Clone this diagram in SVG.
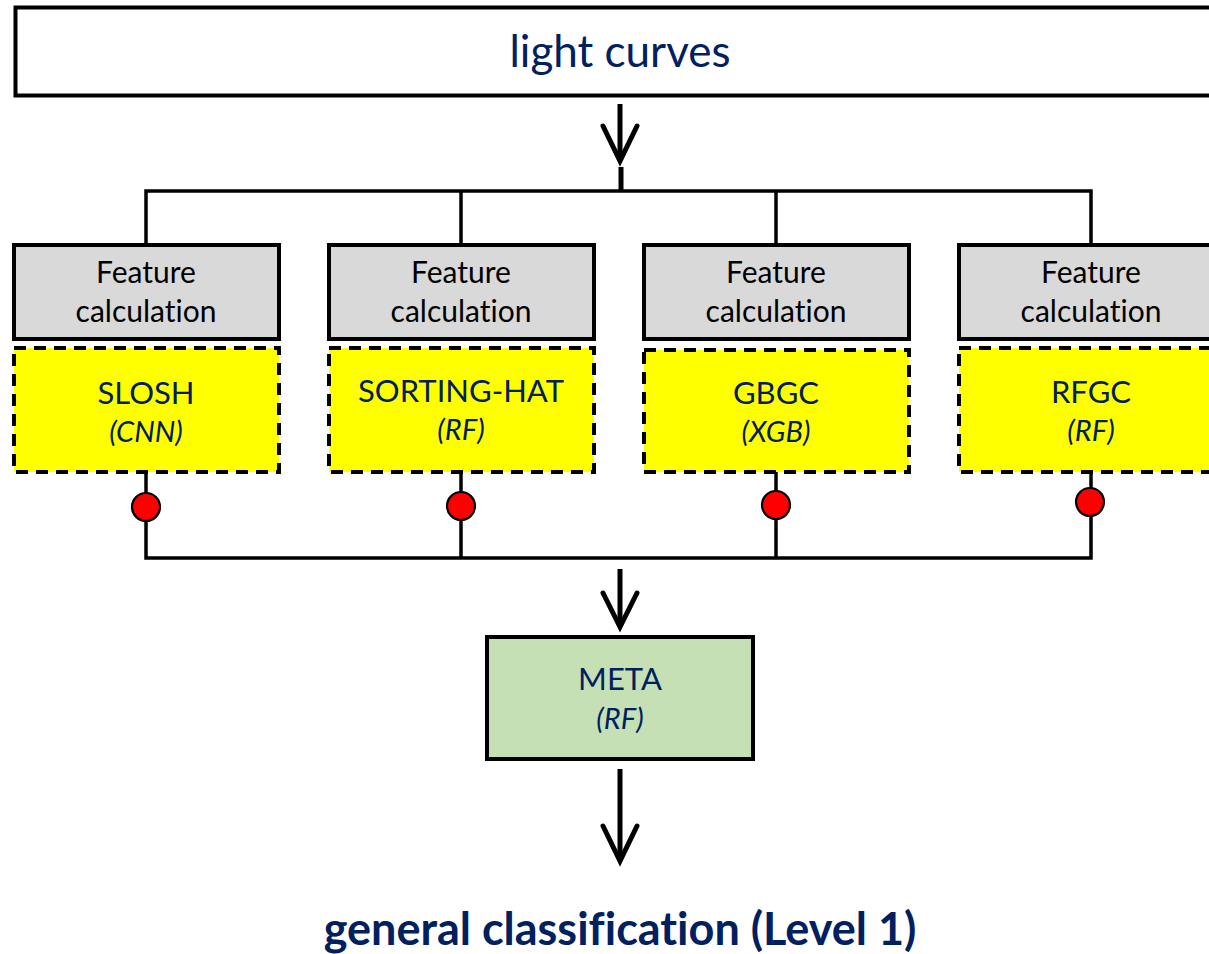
<svg xmlns="http://www.w3.org/2000/svg" width="1209" height="954" viewBox="0 0 1209 954">
  <style>
    .t { font-family: Lato, "Open Sans", "Liberation Sans", sans-serif; text-anchor: middle; font-variant-ligatures: none; }
    .navy { fill: #002060; }
    .title { font-size: 44px; }
    .feat { font-size: 30px; fill: #000; }
    .name { font-size: 31px; }
    .algo { font-size: 29px; font-style: italic; }
    .out { font-size: 45px; font-weight: bold; }
    .gray { fill: #D9D9D9; stroke: #000; stroke-width: 4; }
    .yellow { fill: #FFFF00; stroke: #000; stroke-width: 4; stroke-dasharray: 12 8; }
    .wire { fill: none; stroke: #000; stroke-width: 3.5; }
    .arrow { fill: none; stroke: #000; stroke-width: 5; stroke-linecap: round; stroke-linejoin: miter; }
    .dot { fill: #FF0000; stroke: #000; stroke-width: 2.2; }
  </style>

  <g id="connectors">
    <!-- top arrow -->
    <line class="arrow" x1="620" y1="104" x2="620" y2="160" style="stroke-linecap:butt"/>
    <polyline class="arrow" points="603,126 620,161 637,126"/>
    <line class="wire" x1="621" y1="167" x2="621" y2="192" style="stroke-width:5"/>
    <!-- top bus -->
    <polyline class="wire" points="146,245 146,191 1091,191 1091,245"/>
    <line class="wire" x1="461" y1="191" x2="461" y2="245"/>
    <line class="wire" x1="776" y1="191" x2="776" y2="245"/>
    <!-- bottom bus -->
    <polyline class="wire" points="146,464 146,558 1091,558 1091,464"/>
    <line class="wire" x1="461" y1="464" x2="461" y2="558"/>
    <line class="wire" x1="776" y1="464" x2="776" y2="558"/>
    <!-- arrow to META -->
    <line class="arrow" x1="620" y1="569" x2="620" y2="626" style="stroke-linecap:butt"/>
    <polyline class="arrow" points="603,593 620,627 637,593"/>
    <!-- arrow from META -->
    <line class="arrow" x1="620" y1="769" x2="620" y2="860" style="stroke-linecap:butt"/>
    <polyline class="arrow" points="603,826 620,861 637,826"/>
  </g>

  <g id="light-curves">
    <rect x="15.5" y="7.5" width="1210" height="88" fill="#FFFFFF" stroke="#000" stroke-width="4"/>
    <text class="t navy title" x="620" y="67">light curves</text>
  </g>

  <g id="feat-1">
    <rect class="gray" x="14" y="245" width="265" height="94"/>
    <text class="t feat" x="146" y="283">Feature</text>
    <text class="t feat" x="146" y="322">calculation</text>
  </g>
  <g id="feat-2">
    <rect class="gray" x="329" y="245" width="265" height="94"/>
    <text class="t feat" x="461" y="283">Feature</text>
    <text class="t feat" x="461" y="322">calculation</text>
  </g>
  <g id="feat-3">
    <rect class="gray" x="644" y="245" width="265" height="94"/>
    <text class="t feat" x="776" y="283">Feature</text>
    <text class="t feat" x="776" y="322">calculation</text>
  </g>
  <g id="feat-4">
    <rect class="gray" x="959" y="245" width="265" height="94"/>
    <text class="t feat" x="1091" y="283">Feature</text>
    <text class="t feat" x="1091" y="322">calculation</text>
  </g>

  <g id="slosh">
    <rect class="yellow" x="14" y="348" width="265" height="124"/>
    <text class="t navy name" x="146" y="404">SLOSH</text>
    <text class="t navy algo" x="146" y="442">(CNN)</text>
  </g>
  <g id="sorting-hat">
    <rect class="yellow" x="329" y="348" width="265" height="124"/>
    <text class="t navy name" x="461" y="402">SORTING-HAT</text>
    <text class="t navy algo" x="461" y="440">(RF)</text>
  </g>
  <g id="gbgc">
    <rect class="yellow" x="644" y="350" width="265" height="122"/>
    <text class="t navy name" x="776" y="404">GBGC</text>
    <text class="t navy algo" x="776" y="442">(XGB)</text>
  </g>
  <g id="rfgc">
    <rect class="yellow" x="959" y="348" width="265" height="124"/>
    <text class="t navy name" x="1091" y="403">RFGC</text>
    <text class="t navy algo" x="1091" y="441">(RF)</text>
  </g>

  <g id="dots">
    <circle class="dot" cx="146" cy="507" r="14"/>
    <circle class="dot" cx="461" cy="506" r="14"/>
    <circle class="dot" cx="776" cy="505" r="14"/>
    <circle class="dot" cx="1090" cy="502" r="14"/>
  </g>

  <g id="meta">
    <rect x="487" y="637" width="266" height="122" fill="#C5E0B4" stroke="#000" stroke-width="4"/>
    <text class="t navy name" x="620" y="690">META</text>
    <text class="t navy algo" x="620" y="729">(RF)</text>
  </g>

  <g id="output">
    <text class="t navy out" x="620" y="945">general classification (Level 1)</text>
  </g>
</svg>
